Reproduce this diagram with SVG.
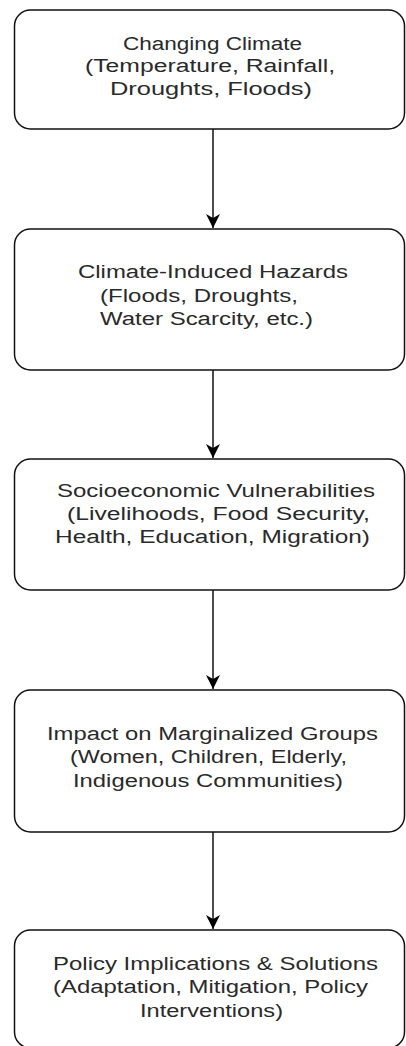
<svg xmlns="http://www.w3.org/2000/svg" width="406" height="1046" viewBox="0 0 406 1046">
<style>
.box{fill:#fff;stroke:#111;stroke-width:1.5}
.t{font-family:"Liberation Sans",Arial,sans-serif;font-size:18px;fill:#2a2a2a;text-anchor:middle}
.c{stroke:#000;stroke-width:1.4;fill:none}
</style>
<defs>
<marker id="ah" markerWidth="14" markerHeight="16" refX="14" refY="8" orient="auto" markerUnits="userSpaceOnUse">
<path d="M0,1 L14,8 L0,15 L4,8 Z" fill="#000"/>
</marker>
</defs>
<rect width="406" height="1046" fill="#fff"/>
<g id="connectors">
<line class="c" x1="213" y1="129" x2="213" y2="228" marker-end="url(#ah)"/>
<line class="c" x1="213" y1="370" x2="213" y2="458" marker-end="url(#ah)"/>
<line class="c" x1="213" y1="590" x2="213" y2="689" marker-end="url(#ah)"/>
<line class="c" x1="213" y1="832" x2="213" y2="929" marker-end="url(#ah)"/>
</g>
<g id="n1">
<rect class="box" x="14.5" y="10" width="390" height="119" rx="16"/>
<text class="t" lengthAdjust="spacingAndGlyphs"><tspan x="212.5" y="50" textLength="179" lengthAdjust="spacingAndGlyphs">Changing Climate</tspan><tspan x="210" y="72" textLength="250" lengthAdjust="spacingAndGlyphs">(Temperature, Rainfall,</tspan><tspan x="211" y="95" textLength="202" lengthAdjust="spacingAndGlyphs">Droughts, Floods)</tspan></text>
</g>
<g id="n2">
<rect class="box" x="14.5" y="229" width="390" height="141" rx="16"/>
<text class="t"><tspan x="213" y="278" textLength="270" lengthAdjust="spacingAndGlyphs">Climate-Induced Hazards</tspan><tspan x="199" y="302" textLength="198" lengthAdjust="spacingAndGlyphs">(Floods, Droughts,</tspan><tspan x="206.5" y="325" textLength="213" lengthAdjust="spacingAndGlyphs">Water Scarcity, etc.)</tspan></text>
</g>
<g id="n3">
<rect class="box" x="14.5" y="459" width="390" height="131" rx="16"/>
<text class="t"><tspan x="216" y="497" textLength="318" lengthAdjust="spacingAndGlyphs">Socioeconomic Vulnerabilities</tspan><tspan x="218.5" y="520" textLength="303" lengthAdjust="spacingAndGlyphs">(Livelihoods, Food Security,</tspan><tspan x="212.5" y="543" textLength="315" lengthAdjust="spacingAndGlyphs">Health, Education, Migration)</tspan></text>
</g>
<g id="n4">
<rect class="box" x="14.5" y="690" width="390" height="142" rx="16"/>
<text class="t"><tspan x="212.5" y="740" textLength="331" lengthAdjust="spacingAndGlyphs">Impact on Marginalized Groups</tspan><tspan x="208.5" y="763" textLength="277" lengthAdjust="spacingAndGlyphs">(Women, Children, Elderly,</tspan><tspan x="208" y="787" textLength="270" lengthAdjust="spacingAndGlyphs">Indigenous Communities)</tspan></text>
</g>
<g id="n5">
<rect class="box" x="14.5" y="930" width="390" height="118" rx="16"/>
<text class="t"><tspan x="215.5" y="970" textLength="325" lengthAdjust="spacingAndGlyphs">Policy Implications &amp; Solutions</tspan><tspan x="210.5" y="993" textLength="315" lengthAdjust="spacingAndGlyphs">(Adaptation, Mitigation, Policy</tspan><tspan x="211.5" y="1017" textLength="143" lengthAdjust="spacingAndGlyphs">Interventions)</tspan></text>
</g>
</svg>
